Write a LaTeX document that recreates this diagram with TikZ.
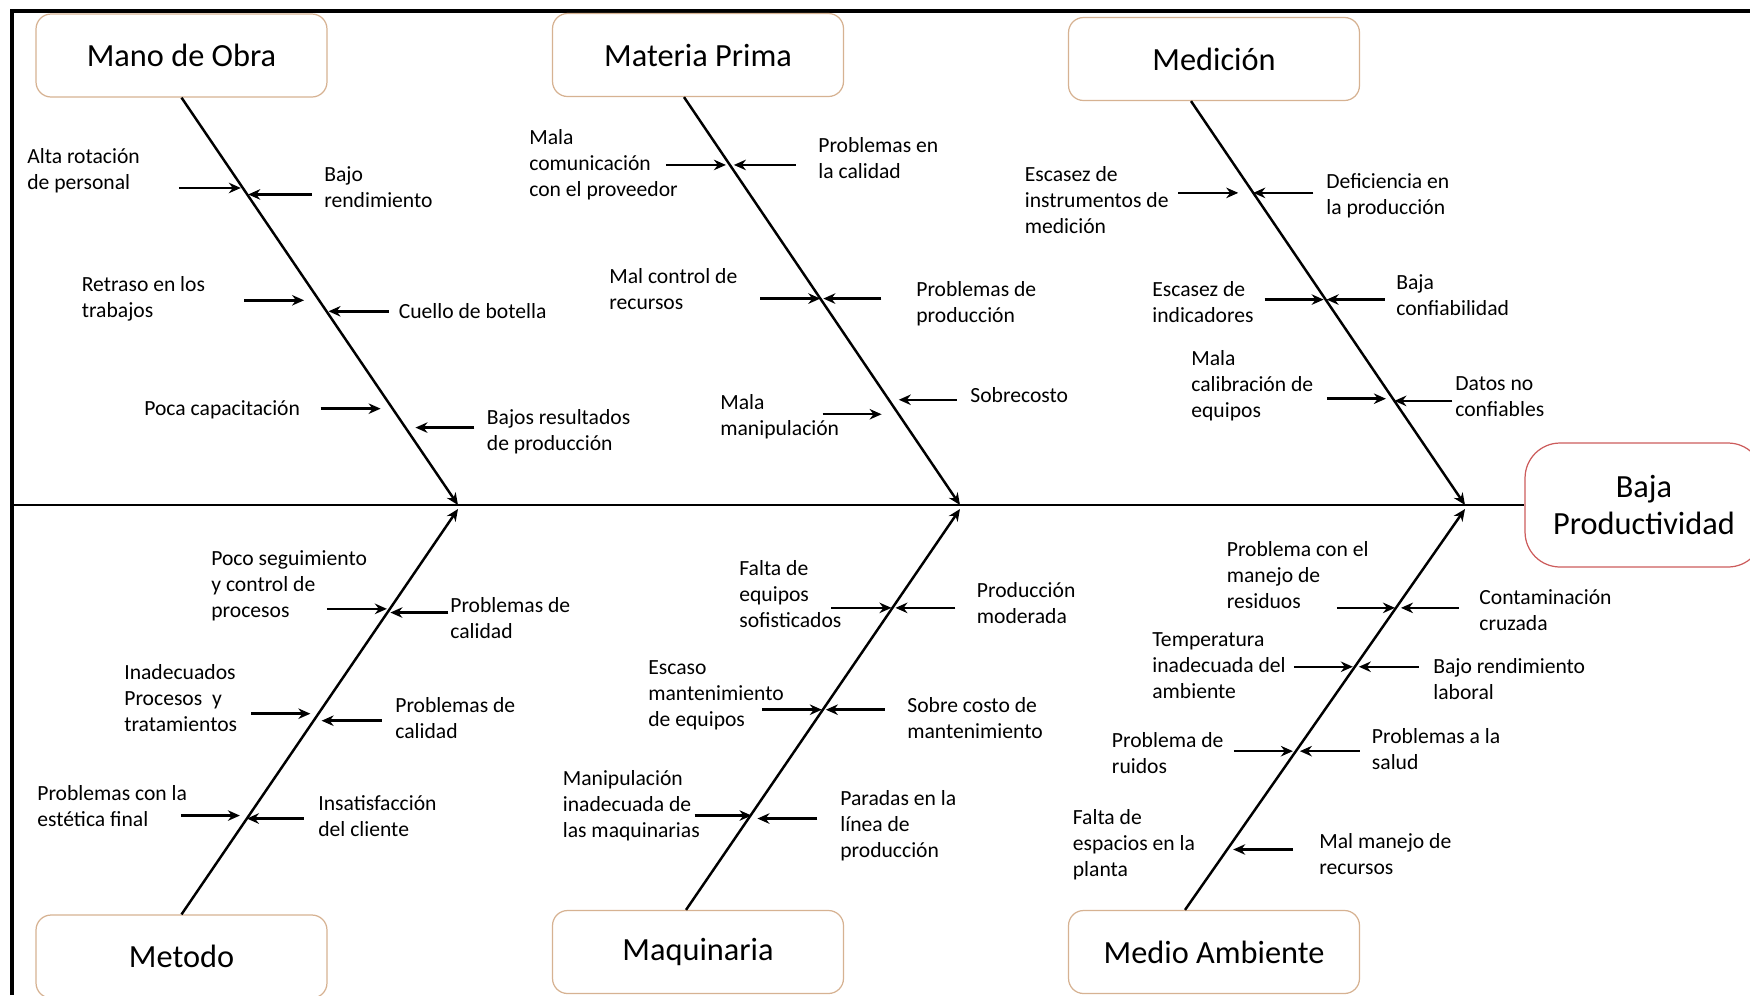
\documentclass[tikz,border=0pt]{standalone}
\usepackage{fontspec}
\setmainfont{Carlito}
\usetikzlibrary{calc, arrows.meta}
\definecolor{boxtan}{RGB}{214,178,146}
\definecolor{effectred}{RGB}{204,92,92}
\tikzstyle{cause}  = [-{Stealth[length=0.24cm, width=0.21cm]}, line width=1.4pt]
\tikzstyle{bone}   = [-{Stealth[length=0.24cm, width=0.21cm]}, line width=1.4pt]
\tikzstyle{lbl}    = [anchor=base west, align=left, inner sep=0pt, font=\fontsize{12.3}{14.8}\selectfont]
\tikzstyle{catbox} = [draw=boxtan, line width=0.7pt, rounded corners=0.3cm, minimum width=5.82cm, minimum height=1.66cm, font=\fontsize{18.4}{21.6}\selectfont]

\begin{document}
\begin{tikzpicture}[x=0.02cm, y=-0.02cm]
  \useasboundingbox (0,0) rectangle (1750,995);

  % frame
  \draw[line width=2.3pt] (12,995) -- (12,11) -- (1750,11);

  % categories and effect
  \node[catbox] (mo)  at (181.5,55.5) {Mano de Obra};
  \node[catbox] (mp)  at (698,55)     {Materia Prima};
  \node[catbox] (med) at (1214,59)    {Medición};
  \node[catbox] (met) at (181.5,956.5) {Metodo};
  \node[catbox] (maq) at (698,952)    {Maquinaria};
  \node[catbox] (ma)  at (1214,952)   {Medio Ambiente};
  \node[draw=effectred, line width=0.7pt, rounded corners=0.7cm, minimum width=4.76cm,
        minimum height=2.48cm, align=center, font=\fontsize{18.4}{21.6}\selectfont]
        (baja) at (1644,505) {Baja\\Productividad};

  % spine
  \coordinate (spL) at (12,505);
  \draw[line width=1.4pt] (spL) -- (baja.west);

  % bones
  \coordinate (j1u) at (458,505);  \coordinate (j1d) at (458,509);
  \coordinate (j2u) at (960,505);  \coordinate (j2d) at (960,509);
  \coordinate (j3u) at (1465,505); \coordinate (j3d) at (1465,509);
  \coordinate (moA)  at (mo.south);
  \coordinate (mpA)  at ($(mp.south)+(-14,0)$);
  \coordinate (medA) at ($(med.south)+(-23,0)$);
  \coordinate (metA) at (met.north);
  \coordinate (maqA) at ($(maq.north)+(-12,0)$);
  \coordinate (maA)  at ($(ma.north)+(-29,0)$);
  \draw[bone] (moA) -- (j1u);
  \draw[bone] (mpA) -- (j2u);
  \draw[bone] (medA) -- (j3u);
  \draw[bone] (metA) -- (j1d);
  \draw[bone] (maqA) -- (j2d);
  \draw[bone] (maA) -- (j3d);

  % sub-causes
  \foreach \t/\a/\b in {0.2218/-64/-2, 0.2377/65/1, 0.4975/-75/-15, 0.5245/62/2, 0.7635/-72/-12, 0.81/69/10}
    \draw[cause] ($(moA)!\t!(j1u)+(\a,0)$) -- ($(moA)!\t!(j1u)+(\b,0)$);
  \foreach \t/\a/\b in {0.1663/-64/-4, 0.1663/66/4, 0.4939/-60/0, 0.4939/61/3, 0.7775/-76/-17, 0.742/68/10}
    \draw[cause] ($(mpA)!\t!(j2u)+(\a,0)$) -- ($(mpA)!\t!(j2u)+(\b,0)$);
  \foreach \t/\a/\b in {0.2272/-75/-15, 0.2272/60/0, 0.4914/-61/-2, 0.4914/59/1, 0.7368/-66/-7, 0.7422/58/0}
    \draw[cause] ($(medA)!\t!(j3u)+(\a,0)$) -- ($(medA)!\t!(j3u)+(\b,0)$);
  \foreach \t/\a/\b in {0.7537/-63/-3, 0.7446/61/3, 0.4951/-67/-8, 0.4778/68/8, 0.2438/-68/-9, 0.2365/57/0}
    \draw[cause] ($(metA)!\t!(j1d)+(\a,0)$) -- ($(metA)!\t!(j1d)+(\b,0)$);
  \foreach \t/\a/\b in {0.7534/-61/-1, 0.7534/63/3, 0.4994/-61/-1, 0.4994/62/3, 0.2354/-56/1, 0.2279/69/9}
    \draw[cause] ($(maqA)!\t!(j2d)+(\a,0)$) -- ($(maqA)!\t!(j2d)+(\b,0)$);
  \foreach \t/\a/\b in {0.7534/-59/-1, 0.7534/63/5, 0.6065/-61/-2, 0.6065/64/4, 0.396/-62/-3, 0.396/64/4, 0.1507/66/6}
    \draw[cause] ($(maA)!\t!(j3d)+(\a,0)$) -- ($(maA)!\t!(j3d)+(\b,0)$);

  % labels (placed at the baseline of their last line): mano de obra
  \node[lbl] (mo1) at (27,189)    {Alta rotación\\de personal};
  \node[lbl] (mo2) at (324,207)   {Bajo\\rendimiento};
  \node[lbl] (mo3) at (81.5,317)  {Retraso en los\\trabajos};
  \node[lbl] (mo4) at (398.5,318) {Cuello de botella};
  \node[lbl] (mo5) at (144,415.5) {Poca capacitación};
  \node[lbl] (mo6) at (486.6,450.5) {Bajos resultados\\de producción};
  % labels: materia prima
  \node[lbl] (mp1) at (529,196.7) {Mala\\comunicación\\con el proveedor};
  \node[lbl] (mp2) at (818,178)   {Problemas en\\la calidad};
  \node[lbl] (mp3) at (609,309)   {Mal control de\\recursos};
  \node[lbl] (mp4) at (916,322)   {Problemas de\\producción};
  \node[lbl] (mp5) at (970,402)   {Sobrecosto};
  \node[lbl] (mp6) at (720,435)   {Mala\\manipulación};
  % labels: medicion
  \node[lbl] (med1) at (1024.5,233) {Escasez de\\instrumentos de\\medición};
  \node[lbl] (med2) at (1326,214)   {Deficiencia en\\la producción};
  \node[lbl] (med3) at (1152,322)   {Escasez de\\indicadores};
  \node[lbl] (med4) at (1396,315.5) {Baja\\confiabilidad};
  \node[lbl] (med5) at (1191,417.7) {Mala\\calibración de\\equipos};
  \node[lbl] (med6) at (1455,416)   {Datos no\\confiables};
  % labels: metodo
  \node[lbl] (met1) at (211,617)   {Poco seguimiento\\y control de\\procesos};
  \node[lbl] (met2) at (450,638)   {Problemas de\\calidad};
  \node[lbl] (met3) at (124,731)   {Inadecuados\\Procesos~ y\\tratamientos};
  \node[lbl] (met4) at (395,738.5) {Problemas de\\calidad};
  \node[lbl] (met5) at (37,826.5)  {Problemas con la\\estética final};
  \node[lbl] (met6) at (318,836.5) {Insatisfacción\\del cliente};
  % labels: maquinaria
  \node[lbl] (maq1) at (739,627)   {Falta de\\equipos\\sofisticados};
  \node[lbl] (maq2) at (976.6,623.5) {Producción\\moderada};
  \node[lbl] (maq3) at (648,726.7) {Escaso\\mantenimiento\\de equipos};
  \node[lbl] (maq4) at (907,738.5) {Sobre costo de\\mantenimiento};
  \node[lbl] (maq5) at (562.5,837) {Manipulación\\inadecuada de\\las maquinarias};
  \node[lbl] (maq6) at (840,857)   {Paradas en la\\línea de\\producción};
  % labels: medio ambiente
  \node[lbl] (ma1) at (1226.5,608) {Problema con el\\manejo de\\residuos};
  \node[lbl] (ma2) at (1479,630)   {Contaminación\\cruzada};
  \node[lbl] (ma3) at (1152,698.8) {Temperatura\\inadecuada del\\ambiente};
  \node[lbl] (ma4) at (1433,699.5) {Bajo rendimiento\\laboral};
  \node[lbl] (ma5) at (1111.6,773) {Problema de\\ruidos};
  \node[lbl] (ma6) at (1371.6,769.8) {Problemas a la\\salud};
  \node[lbl] (ma7) at (1072.5,876) {Falta de\\espacios en la\\planta};
  \node[lbl] (ma8) at (1319,874.7) {Mal manejo de\\recursos};
\end{tikzpicture}
\end{document}
